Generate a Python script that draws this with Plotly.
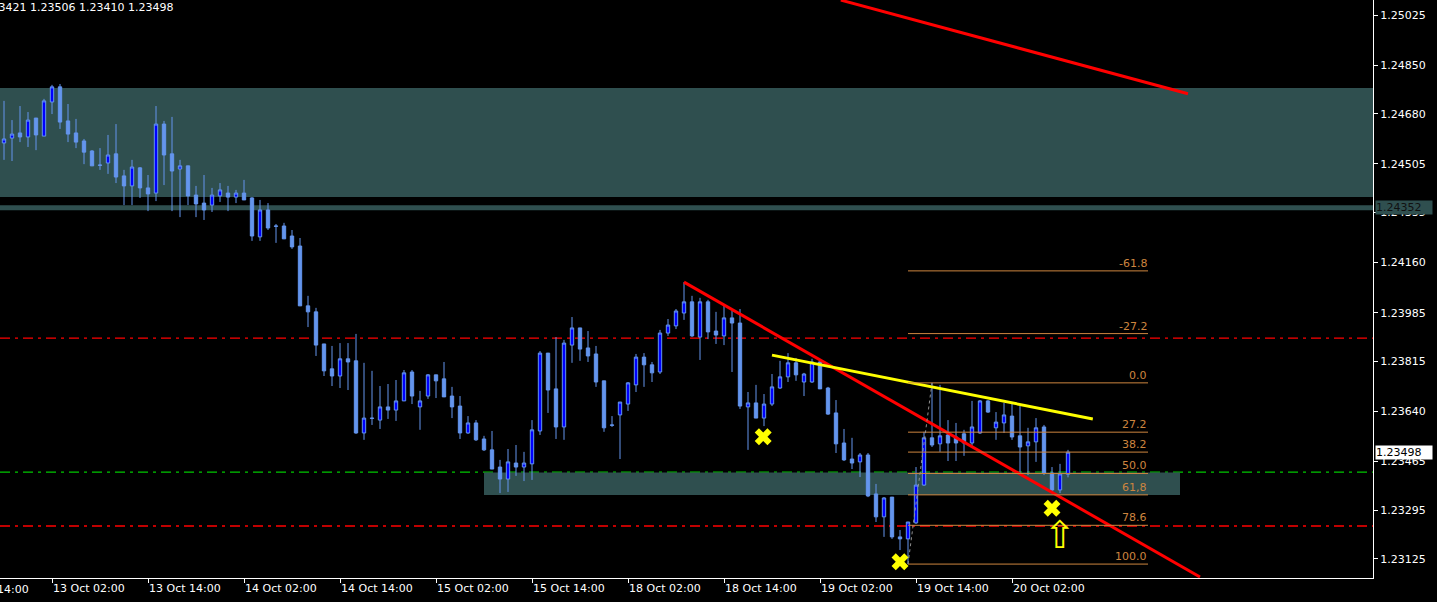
import plotly.graph_objects as go

# ---------------- data ----------------
opens = [1.24578,1.24595,1.24613,1.24599,1.24665,1.24602,1.24721,1.24774,1.24655,1.24613,
         1.24585,1.24550,1.24501,1.24508,1.24540,1.24463,1.24428,1.24491,1.24421,1.24403,
         1.24644,1.24540,1.24487,1.24498,1.24396,1.24368,1.24361,1.24393,1.24403,1.24389,
         1.24403,1.24386,1.24250,1.24344,1.24288,1.24288,1.24253,1.24218,1.24009,1.23988,
         1.23876,1.23789,1.23764,1.23824,1.23817,1.23565,1.23617,1.23610,1.23656,1.23645,
         1.23677,1.23778,1.23656,1.23694,1.23768,1.23754,1.23694,1.23659,1.23565,1.23600,
         1.23544,1.23506,1.23446,1.23404,1.23460,1.23446,1.23457,1.23572,1.23844,1.23719,
         1.23586,1.23872,1.23932,1.23862,1.23841,1.23747,1.23593,1.23628,1.23666,1.23733,
         1.23830,1.23803,1.23778,1.23914,1.23939,1.23984,1.24023,1.23900,1.24023,1.23921,
         1.23904,1.23967,1.23949,1.23656,1.23670,1.23617,1.23666,1.23722,1.23761,1.23810,
         1.23743,1.23743,1.23813,1.23722,1.23635,1.23530,1.23474,1.23464,1.23488,1.23352,
         1.23272,1.23341,1.23202,1.23195,1.23251,1.23383,1.23548,1.23527,1.23558,1.23551,
         1.23562,1.23530,1.23565,1.23677,1.23583,1.23600,1.23624,1.23555,1.23520,1.23534,
         1.23586,1.23425,1.23366,1.23421]
highs = [1.24725,1.24658,1.24707,1.24686,1.24665,1.24732,1.24781,1.24784,1.24714,1.24662,
         1.24592,1.24553,1.24560,1.24606,1.24644,1.24484,1.24519,1.24494,1.24466,1.24707,
         1.24655,1.24669,1.24519,1.24498,1.24428,1.24466,1.24421,1.24438,1.24428,1.24414,
         1.24449,1.24389,1.24379,1.24368,1.24295,1.24299,1.24274,1.24246,1.24044,1.24002,
         1.23876,1.23869,1.23879,1.23879,1.23911,1.23810,1.23782,1.23729,1.23736,1.23750,
         1.23785,1.23785,1.23712,1.23771,1.23768,1.23813,1.23726,1.23694,1.23624,1.23610,
         1.23555,1.23572,1.23471,1.23509,1.23523,1.23499,1.23610,1.23851,1.23844,1.23900,
         1.23890,1.23970,1.23932,1.23921,1.23869,1.23747,1.23624,1.23673,1.23743,1.23841,
         1.23844,1.23813,1.23925,1.23963,1.23998,1.24092,1.24044,1.24037,1.24030,1.23988,
         1.24009,1.23991,1.23998,1.23708,1.23733,1.23701,1.23771,1.23817,1.23844,1.23827,
         1.23775,1.23824,1.23820,1.23726,1.23680,1.23579,1.23548,1.23495,1.23495,1.23387,
         1.23341,1.23341,1.23226,1.23254,1.23446,1.23569,1.23740,1.23733,1.23610,1.23600,
         1.23576,1.23677,1.23680,1.23680,1.23638,1.23670,1.23670,1.23659,1.23583,1.23617,
         1.23593,1.23446,1.23457,1.23506]
lows = [1.24519,1.24515,1.24581,1.24564,1.24553,1.24602,1.24679,1.24627,1.24581,1.24560,
        1.24504,1.24498,1.24484,1.24470,1.24438,1.24361,1.24361,1.24386,1.24340,1.24375,
        1.24431,1.24340,1.24319,1.24361,1.24319,1.24309,1.24337,1.24372,1.24340,1.24368,
        1.24379,1.24236,1.24236,1.24274,1.24229,1.24243,1.24208,1.24009,1.23935,1.23834,
        1.23764,1.23729,1.23722,1.23715,1.23562,1.23541,1.23593,1.23579,1.23614,1.23607,
        1.23677,1.23666,1.23576,1.23684,1.23687,1.23691,1.23617,1.23544,1.23562,1.23537,
        1.23502,1.23439,1.23355,1.23359,1.23415,1.23397,1.23401,1.23558,1.23635,1.23544,
        1.23541,1.23810,1.23817,1.23813,1.23726,1.23569,1.23586,1.23474,1.23642,1.23708,
        1.23726,1.23743,1.23771,1.23904,1.23928,1.23960,1.23900,1.23820,1.23893,1.23876,
        1.23872,1.23778,1.23649,1.23506,1.23617,1.23589,1.23659,1.23719,1.23743,1.23747,
        1.23694,1.23740,1.23719,1.23628,1.23495,1.23467,1.23439,1.23411,1.23341,1.23254,
        1.23202,1.23195,1.23156,1.23107,1.23247,1.23380,1.23516,1.23499,1.23467,1.23467,
        1.23485,1.23520,1.23562,1.23635,1.23541,1.23565,1.23541,1.23425,1.23418,1.23464,
        1.23418,1.23359,1.23355,1.23410]
closes = [1.24592,1.24609,1.24599,1.24658,1.24606,1.24725,1.24774,1.24651,1.24609,1.24581,
          1.24546,1.24498,1.24500,1.24536,1.24459,1.24428,1.24494,1.24421,1.24400,1.24644,
          1.24536,1.24480,1.24498,1.24393,1.24365,1.24344,1.24396,1.24414,1.24389,1.24403,
          1.24379,1.24253,1.24344,1.24281,1.24287,1.24243,1.24215,1.24009,1.23988,1.23872,
          1.23782,1.23764,1.23824,1.23813,1.23565,1.23617,1.23616,1.23656,1.23645,1.23677,
          1.23775,1.23694,1.23677,1.23768,1.23747,1.23691,1.23656,1.23565,1.23600,1.23541,
          1.23506,1.23439,1.23404,1.23464,1.23446,1.23460,1.23576,1.23844,1.23715,1.23586,
          1.23879,1.23932,1.23858,1.23834,1.23743,1.23583,1.23592,1.23673,1.23740,1.23830,
          1.23803,1.23775,1.23914,1.23942,1.23991,1.24023,1.23904,1.24023,1.23918,1.23907,
          1.23967,1.23949,1.23659,1.23670,1.23617,1.23666,1.23726,1.23761,1.23810,1.23768,
          1.23771,1.23813,1.23719,1.23631,1.23527,1.23471,1.23460,1.23488,1.23345,1.23272,
          1.23338,1.23202,1.23195,1.23254,1.23383,1.23548,1.23523,1.23555,1.23530,1.23530,
          1.23530,1.23586,1.23677,1.23638,1.23603,1.23628,1.23551,1.23516,1.23534,1.23583,
          1.23425,1.23366,1.23422,1.23498]
bar_index = list(range(len(opens)))

x_tick_index = [6, 18, 30, 42, 54, 66, 78, 90, 102, 114, 126]
x_tick_text = ["13 Oct 02:00", "13 Oct 14:00", "14 Oct 02:00", "14 Oct 14:00",
               "15 Oct 02:00", "15 Oct 14:00", "18 Oct 02:00", "18 Oct 14:00",
               "19 Oct 02:00", "19 Oct 14:00", "20 Oct 02:00"]
first_label_text = "12 Oct 14:00"   # partially off the left edge

y_tick_vals = [1.25025, 1.24850, 1.24680, 1.24505, 1.24335, 1.24160, 1.23985,
               1.23815, 1.23640, 1.23465, 1.23295, 1.23125]
y_tick_text = ["%.5f" % v for v in y_tick_vals]

# zones / levels
supply_zone = [1.24389, 1.24770]
support_level = 1.24352
demand_zone_x = [60, 147]
demand_zone = [1.23348, 1.23427]
red_levels = [1.23896, 1.23240]
green_level = 1.23428

# trendlines (bar index, price)
red_top_x = [104.6, 148.0]
red_top_y = [1.25077, 1.24750]
red_main_x = [85, 149.5]
red_main_y = [1.24092, 1.23062]
yellow_x = [96, 136.1]
yellow_y = [1.23837, 1.23614]

# fibonacci
fib_low_index, fib_high_index = 113, 116
fib_low, fib_high = 1.23107, 1.23740
fib_end_index = 143
fib_ratios = [-0.618, -0.272, 0.0, 0.272, 0.382, 0.5, 0.618, 0.786, 1.0]
fib_labels = ["-61.8", "-27.2", "0.0", "27.2", "38.2", "50.0", "61,8", "78.6", "100.0"]

# marks
x_marks_x = [94.9, 112, 131]
x_marks_y = [1.23552, 1.23115, 1.23302]
arrow_x = 132
arrow_y = 1.23210

last_ohlc = "1.23421 1.23506 1.23410 1.23498"
last_close = 1.23498

# ---------------- figure ----------------
CF = "#6495ED"
TEAL = "#2F4F4F"
FIB = "#CD853F"
FONT = "DejaVu Sans"
FS = 11

fig = go.Figure()

fig.add_trace(go.Candlestick(
    x=bar_index, open=opens, high=highs, low=lows, close=closes,
    increasing=dict(line=dict(color=CF, width=1), fillcolor="#0000FF"),
    decreasing=dict(line=dict(color=CF, width=1), fillcolor=CF),
    whiskerwidth=0, showlegend=False, hoverinfo="skip"))

# trendlines
fig.add_trace(go.Scatter(x=red_top_x, y=red_top_y, mode="lines",
                         line=dict(color="#FF0000", width=3), showlegend=False, hoverinfo="skip"))
fig.add_trace(go.Scatter(x=red_main_x, y=red_main_y, mode="lines",
                         line=dict(color="#FF0000", width=3), showlegend=False, hoverinfo="skip"))
fig.add_trace(go.Scatter(x=yellow_x, y=yellow_y, mode="lines",
                         line=dict(color="#FFFF00", width=3), showlegend=False, hoverinfo="skip"))

# fibonacci lines
fib_prices = [fib_high - r * (fib_high - fib_low) for r in fib_ratios]
for pr in fib_prices:
    fig.add_trace(go.Scatter(x=[fib_low_index, fib_end_index], y=[pr, pr], mode="lines",
                             line=dict(color=FIB, width=1), showlegend=False, hoverinfo="skip"))
fig.add_trace(go.Scatter(x=[fib_low_index, fib_high_index], y=[fib_low, fib_high], mode="lines",
                         line=dict(color="#909090", width=1, dash="dot"),
                         showlegend=False, hoverinfo="skip"))

# X markers
fig.add_trace(go.Scatter(x=x_marks_x, y=x_marks_y, mode="markers",
                         marker=dict(symbol="x", size=15, color="#FFFF00", line=dict(width=0)),
                         showlegend=False, hoverinfo="skip"))

shapes = []
shapes.append(dict(type="rect", xref="paper", x0=0, x1=1, yref="y",
                   y0=supply_zone[0], y1=supply_zone[1], fillcolor=TEAL, line=dict(width=0), layer="below"))
shapes.append(dict(type="line", xref="paper", x0=0, x1=1, yref="y",
                   y0=support_level, y1=support_level, line=dict(color=TEAL, width=5), layer="below"))
shapes.append(dict(type="rect", xref="x", x0=demand_zone_x[0], x1=demand_zone_x[1], yref="y",
                   y0=demand_zone[0], y1=demand_zone[1], fillcolor=TEAL, line=dict(width=0), layer="below"))
for lv in red_levels:
    shapes.append(dict(type="line", xref="paper", x0=0, x1=1, yref="y", y0=lv, y1=lv,
                       line=dict(color="#FF0000", width=1.3, dash="10px,5px,3px,5px"), layer="below"))
shapes.append(dict(type="line", xref="paper", x0=0, x1=1, yref="y", y0=green_level, y1=green_level,
                   line=dict(color="#00C800", width=1.3, dash="10px,5px,3px,5px"), layer="below"))

annotations = []
for pr, lab in zip(fib_prices, fib_labels):
    annotations.append(dict(x=fib_end_index, y=pr, xref="x", yref="y", text=lab, showarrow=False,
                            xanchor="right", yanchor="bottom", borderpad=0, yshift=0,
                            font=dict(family=FONT, size=FS, color=FIB)))
annotations.append(dict(x=arrow_x, y=arrow_y, xref="x", yref="y", text="⇧", showarrow=False,
                        font=dict(family="DejaVu Sans", size=38, color="#FFFF00")))
annotations.append(dict(x=0, y=1, xref="paper", yref="paper", xshift=175, text=last_ohlc,
                        showarrow=False, xanchor="right", yanchor="top", yshift=1,
                        font=dict(family=FONT, size=FS, color="#FFFFFF")))
annotations.append(dict(x=0, y=0, xref="paper", yref="paper", xshift=-45, text=first_label_text,
                        showarrow=False, xanchor="left", yanchor="top", yshift=-3,
                        font=dict(family=FONT, size=FS, color="#FFFFFF")))
annotations.append(dict(x=1, y=support_level, xref="paper", yref="y", text="%.5f" % support_level,
                        showarrow=False, xanchor="left", xshift=2, bgcolor=TEAL, borderpad=0, width=56,
                        align="left", font=dict(family=FONT, size=FS, color="#111111")))
annotations.append(dict(x=1, y=last_close, xref="paper", yref="y", text="%.5f" % last_close,
                        showarrow=False, xanchor="left", xshift=2, bgcolor="#FFFFFF", borderpad=0, width=56,
                        align="left", font=dict(family=FONT, size=FS, color="#000000")))

fig.update_layout(
    width=1437, height=602,
    margin=dict(l=0, r=64, t=0, b=24, pad=0, autoexpand=False),
    paper_bgcolor="#000000", plot_bgcolor="#000000",
    shapes=shapes, annotations=annotations, boxgap=0.4,
    xaxis=dict(range=[-0.5, 171.125], tickvals=x_tick_index, ticktext=x_tick_text,
               showgrid=False, zeroline=False, showline=True, linecolor="#FFFFFF", linewidth=1,
               ticks="outside", ticklen=4, tickcolor="#FFFFFF", ticklabelposition="outside right",
               tickfont=dict(family=FONT, size=FS, color="#FFFFFF"), automargin=False,
               rangeslider=dict(visible=False), fixedrange=True),
    yaxis=dict(range=[1.230584, 1.250774], side="right", tickvals=y_tick_vals, ticktext=y_tick_text,
               showgrid=False, zeroline=False, showline=True, linecolor="#FFFFFF", linewidth=1,
               ticks="outside", ticklen=4, tickcolor="#FFFFFF", automargin=False,
               tickfont=dict(family=FONT, size=FS, color="#FFFFFF"), fixedrange=True),
)

fig.write_html("out.html", config={"displayModeBar": False},
               post_script="document.body.style.margin='0px';document.body.style.background='#000000';")
